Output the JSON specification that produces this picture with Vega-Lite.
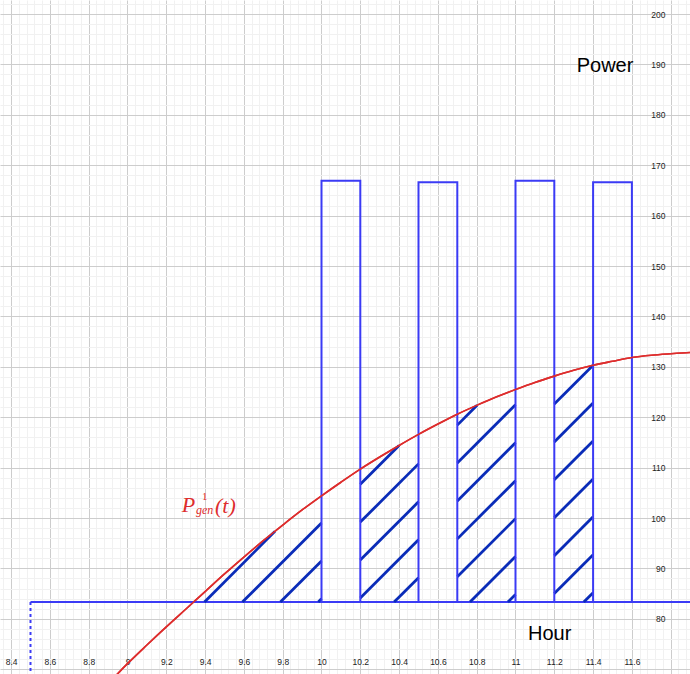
{
  "$schema": "https://vega.github.io/schema/vega-lite/v6.json",
  "width": 690,
  "height": 674,
  "autosize": {"type": "none"},
  "padding": 0,
  "background": "white",
  "config": {"view": {"stroke": null}},
  "datasets": {
    "curve": [
      {"x": 8.8, "y": 62.9}, {"x": 8.9, "y": 67.1}, {"x": 9.0, "y": 71.1}, {"x": 9.1, "y": 74.8},
      {"x": 9.2, "y": 78.4}, {"x": 9.3, "y": 81.9}, {"x": 9.4, "y": 85.4}, {"x": 9.5, "y": 88.9},
      {"x": 9.6, "y": 92.25}, {"x": 9.7, "y": 95.5}, {"x": 9.8, "y": 98.6}, {"x": 9.9, "y": 101.6},
      {"x": 10.0, "y": 104.4}, {"x": 10.1, "y": 107.1}, {"x": 10.2, "y": 109.7}, {"x": 10.3, "y": 112.1},
      {"x": 10.4, "y": 114.4}, {"x": 10.5, "y": 116.6}, {"x": 10.6, "y": 118.65}, {"x": 10.7, "y": 120.6},
      {"x": 10.8, "y": 122.35}, {"x": 10.9, "y": 124.0}, {"x": 11.0, "y": 125.5}, {"x": 11.1, "y": 126.9},
      {"x": 11.2, "y": 128.15}, {"x": 11.3, "y": 129.3}, {"x": 11.4, "y": 130.3}, {"x": 11.5, "y": 131.1},
      {"x": 11.6, "y": 131.85}, {"x": 11.7, "y": 132.3}, {"x": 11.8, "y": 132.6}, {"x": 11.9, "y": 132.85},
      {"x": 12.0, "y": 133.0}
    ],
    "hatch": [
      {"x": 9.397, "y": 83.33, "x2": 9.76, "y2": 97.35},
      {"x": 9.5925, "y": 83.33, "x2": 10.0, "y2": 99.01},
      {"x": 9.788, "y": 83.33, "x2": 10.0, "y2": 91.49},
      {"x": 9.9835, "y": 83.33, "x2": 10.0, "y2": 83.97},
      {"x": 10.2, "y": 84.14, "x2": 10.5, "y2": 95.69},
      {"x": 10.3745, "y": 83.33, "x2": 10.5, "y2": 88.16},
      {"x": 10.2, "y": 91.66, "x2": 10.5, "y2": 103.21},
      {"x": 10.2, "y": 99.19, "x2": 10.5, "y2": 110.74},
      {"x": 10.2, "y": 106.71, "x2": 10.4, "y2": 114.4},
      {"x": 10.7655, "y": 83.33, "x2": 11.0, "y2": 92.36},
      {"x": 10.961, "y": 83.33, "x2": 11.0, "y2": 84.83},
      {"x": 10.7, "y": 88.33, "x2": 11.0, "y2": 99.88},
      {"x": 10.7, "y": 95.86, "x2": 11.0, "y2": 107.41},
      {"x": 10.7, "y": 103.38, "x2": 11.0, "y2": 114.93},
      {"x": 10.7, "y": 110.91, "x2": 11.0, "y2": 122.46},
      {"x": 10.7, "y": 118.43, "x2": 10.802, "y2": 122.37},
      {"x": 11.352, "y": 83.33, "x2": 11.4, "y2": 85.18},
      {"x": 11.2, "y": 85.0, "x2": 11.4, "y2": 92.7},
      {"x": 11.2, "y": 92.53, "x2": 11.4, "y2": 100.23},
      {"x": 11.2, "y": 100.05, "x2": 11.4, "y2": 107.75},
      {"x": 11.2, "y": 107.58, "x2": 11.4, "y2": 115.28},
      {"x": 11.2, "y": 115.1, "x2": 11.4, "y2": 122.8},
      {"x": 11.2, "y": 122.63, "x2": 11.4, "y2": 130.3}
    ],
    "rects": [
      {"x": 10.0, "x2": 10.2, "y": 83.33, "y2": 166.9},
      {"x": 10.5, "x2": 10.7, "y": 83.33, "y2": 166.6},
      {"x": 11.0, "x2": 11.2, "y": 83.33, "y2": 166.9},
      {"x": 11.4, "x2": 11.6, "y": 83.33, "y2": 166.6}
    ],
    "baseline": [{"x": 8.5, "x2": 12.2, "y": 83.33}],
    "dashed": [{"x": 8.5, "y": 83.33, "y2": 60}],
    "titles": [
      {"x": 11.3154, "y": 188.43, "text": "Power"},
      {"x": 11.0644, "y": 75.79, "text": "Hour"}
    ],
    "mathBig": [
      {"x": 9.2794, "y": 101.25, "text": "P"},
      {"x": 9.4511, "y": 100.99, "text": "(t)"}
    ],
    "mathSup": [
      {"x": 9.384, "y": 103.5, "text": "1"}
    ],
    "mathSub": [
      {"x": 9.3531, "y": 100.74, "text": "gen"}
    ]
  },
  "layer": [
    {
      "data": {"name": "curve"},
      "mark": {"type": "line", "color": "#dd2d2d", "strokeWidth": 1.6, "clip": true, "interpolate": "monotone"},
      "encoding": {
        "x": {
          "field": "x", "type": "quantitative",
          "scale": {"domain": [8.3428, 11.8995], "nice": false, "zero": false},
          "axis": {
            "orient": "bottom", "offset": -13, "title": null, "tickCount": 1000,
            "values": [8.36,8.4,8.44,8.48,8.52,8.56,8.6,8.64,8.68,8.72,8.76,8.8,8.84,8.88,8.92,8.96,9,9.04,9.08,9.12,9.16,9.2,9.24,9.28,9.32,9.36,9.4,9.44,9.48,9.52,9.56,9.6,9.64,9.68,9.72,9.76,9.8,9.84,9.88,9.92,9.96,10,10.04,10.08,10.12,10.16,10.2,10.24,10.28,10.32,10.36,10.4,10.44,10.48,10.52,10.56,10.6,10.64,10.68,10.72,10.76,10.8,10.84,10.88,10.92,10.96,11,11.04,11.08,11.12,11.16,11.2,11.24,11.28,11.32,11.36,11.4,11.44,11.48,11.52,11.56,11.6,11.64,11.68,11.72,11.76,11.8,11.84,11.88],
            "domain": false, "ticks": false, "labelPadding": 0, "labelBaseline": "middle",
            "labelFontSize": 8.5, "labelColor": "#222222", "labelFont": "Liberation Sans",
            "labelOverlap": false, "labelBound": false, "labelFlush": false,
            "labelExpr": "(abs(datum.value*5 - round(datum.value*5)) < 0.01 && datum.value < 11.7) ? toString(round(datum.value*10)/10) : ''",
            "grid": true, "gridWidth": 1,
            "gridColor": {"condition": {"test": "abs(datum.value*5 - round(datum.value*5)) < 0.01", "value": "#cdcdcd"}, "value": "#f1f1f1"}
          }
        },
        "y": {
          "field": "y", "type": "quantitative",
          "scale": {"domain": [69.05, 202.78], "nice": false, "zero": false},
          "axis": {
            "orient": "right", "offset": -25, "title": null, "tickCount": 1000,
            "values": [70,72,74,76,78,80,82,84,86,88,90,92,94,96,98,100,102,104,106,108,110,112,114,116,118,120,122,124,126,128,130,132,134,136,138,140,142,144,146,148,150,152,154,156,158,160,162,164,166,168,170,172,174,176,178,180,182,184,186,188,190,192,194,196,198,200,202],
            "domain": false, "ticks": false, "labelPadding": 0, "labelAlign": "right", "labelBaseline": "middle",
            "labelFontSize": 8.5, "labelColor": "#222222", "labelFont": "Liberation Sans",
            "labelOverlap": false, "labelBound": false, "labelFlush": false,
            "labelExpr": "(datum.value % 10 == 0 && datum.value >= 80 && datum.value <= 200) ? toString(datum.value) : ''",
            "grid": true, "gridWidth": 1,
            "gridColor": {"condition": {"test": "datum.value % 10 == 0", "value": "#cdcdcd"}, "value": "#f1f1f1"}
          }
        }
      }
    },
    {
      "data": {"name": "baseline"},
      "mark": {"type": "rule", "color": "#3b3bf5", "strokeWidth": 2, "clip": true},
      "encoding": {
        "x": {"field": "x", "type": "quantitative"},
        "x2": {"field": "x2"},
        "y": {"field": "y", "type": "quantitative"}
      }
    },
    {
      "data": {"name": "dashed"},
      "mark": {"type": "rule", "color": "#3b3bf5", "strokeWidth": 2, "strokeDash": [3, 3], "clip": true},
      "encoding": {
        "x": {"field": "x", "type": "quantitative"},
        "y": {"field": "y", "type": "quantitative"},
        "y2": {"field": "y2"}
      }
    },
    {
      "data": {"name": "hatch"},
      "mark": {"type": "rule", "color": "#0a2cb8", "strokeWidth": 2.8, "strokeCap": "butt", "clip": true},
      "encoding": {
        "x": {"field": "x", "type": "quantitative"},
        "y": {"field": "y", "type": "quantitative"},
        "x2": {"field": "x2"},
        "y2": {"field": "y2"}
      }
    },
    {
      "data": {"name": "rects"},
      "mark": {"type": "rect", "filled": false, "color": "#3b3bf5", "strokeWidth": 2},
      "encoding": {
        "x": {"field": "x", "type": "quantitative"},
        "x2": {"field": "x2"},
        "y": {"field": "y", "type": "quantitative"},
        "y2": {"field": "y2"}
      }
    },
    {
      "data": {"name": "curve"},
      "mark": {"type": "line", "color": "#dd2d2d", "strokeWidth": 1.6, "clip": true, "interpolate": "monotone"},
      "encoding": {
        "x": {"field": "x", "type": "quantitative"},
        "y": {"field": "y", "type": "quantitative"}
      }
    },
    {
      "data": {"name": "titles"},
      "mark": {"type": "text", "font": "Liberation Sans", "fontSize": 20, "color": "#000000", "align": "left", "baseline": "alphabetic"},
      "encoding": {
        "x": {"field": "x", "type": "quantitative"},
        "y": {"field": "y", "type": "quantitative"},
        "text": {"field": "text"}
      }
    },
    {
      "data": {"name": "mathBig"},
      "mark": {"type": "text", "font": "Liberation Serif", "fontStyle": "italic", "fontSize": 22, "color": "#dd2d2d", "align": "left", "baseline": "alphabetic"},
      "encoding": {
        "x": {"field": "x", "type": "quantitative"},
        "y": {"field": "y", "type": "quantitative"},
        "text": {"field": "text"}
      }
    },
    {
      "data": {"name": "mathSup"},
      "mark": {"type": "text", "font": "Liberation Serif", "fontSize": 11, "color": "#dd2d2d", "align": "left", "baseline": "alphabetic"},
      "encoding": {
        "x": {"field": "x", "type": "quantitative"},
        "y": {"field": "y", "type": "quantitative"},
        "text": {"field": "text"}
      }
    },
    {
      "data": {"name": "mathSub"},
      "mark": {"type": "text", "font": "Liberation Serif", "fontStyle": "italic", "fontSize": 12, "color": "#dd2d2d", "align": "left", "baseline": "alphabetic"},
      "encoding": {
        "x": {"field": "x", "type": "quantitative"},
        "y": {"field": "y", "type": "quantitative"},
        "text": {"field": "text"}
      }
    }
  ]
}
